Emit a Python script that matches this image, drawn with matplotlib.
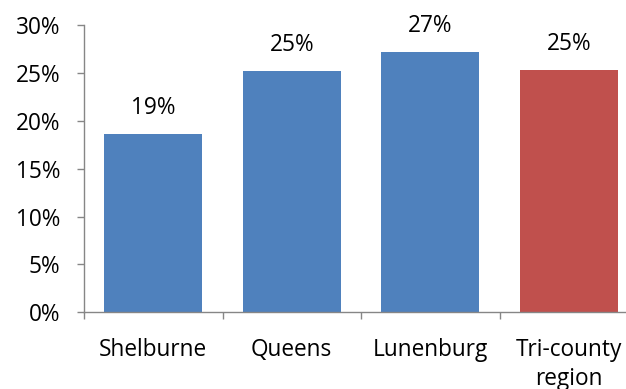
import numpy as np
import matplotlib
matplotlib.use("Agg")
from matplotlib import pyplot as plt
from matplotlib.ticker import FuncFormatter, FixedLocator

categories = ['Shelburne', 'Queens', 'Lunenburg', 'Tri-county\nregion']
values = [18.65, 25.23, 27.15, 25.3]
labels = ['19%', '25%', '27%', '25%']
colors = ['#4F81BD', '#4F81BD', '#4F81BD', '#C0504D']

plt.rcParams['font.family'] = ['Open Sans', 'DejaVu Sans']
fs = 16.3
fig = plt.figure(figsize=(6.26, 3.89), dpi=100)
ax = fig.add_axes([84/626, 1-312.3/389, (638-84)/626, 287.3/389])

x = np.arange(len(categories))
ax.bar(x, values, width=0.71, color=colors)
for xi, v, lab in zip(x, values, labels):
    ax.annotate(lab, (xi, v), xytext=(0, 10), textcoords='offset points',
                ha='center', va='bottom', fontsize=fs)

ax.set_xlim(-0.5, len(categories) - 0.5)
ax.set_ylim(0, 30)
ax.set_yticks(np.arange(0, 31, 5))
ax.yaxis.set_major_formatter(FuncFormatter(lambda v, p: '%d%%' % v))
ax.set_xticks(x)
ax.set_xticklabels(categories, fontsize=fs, linespacing=1.3)
ax.tick_params(axis='x', length=0, pad=18.5)
ax.xaxis.set_minor_locator(FixedLocator(np.arange(-0.5, len(categories), 1)))
ax.tick_params(axis='x', which='minor', length=5, color='#868686', width=1)
ax.tick_params(axis='y', length=5, color='#868686', width=1, labelsize=fs, pad=12)
for s in ['top', 'right']:
    ax.spines[s].set_visible(False)
for s in ['left', 'bottom']:
    ax.spines[s].set_color('#868686')
    ax.spines[s].set_linewidth(1)

fig.savefig('out.png', dpi=100)
